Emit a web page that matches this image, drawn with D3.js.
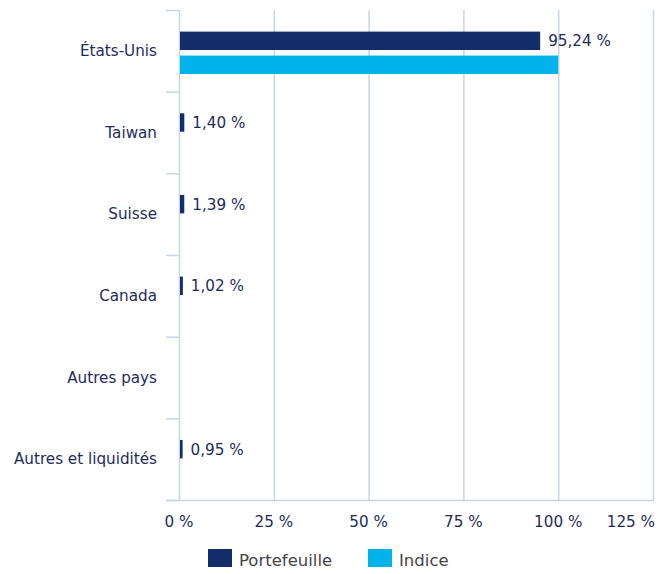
<!DOCTYPE html>
<html><head><meta charset="utf-8">
<script src="https://cdn.jsdelivr.net/npm/d3@7/dist/d3.min.js"></script>
<style>body{margin:0;background:#fff}svg{display:block}</style>
</head><body>
<svg id="c" width="672" height="574"></svg>
<script>
const categories = ["États-Unis","Taiwan","Suisse","Canada","Autres pays","Autres et liquidités"];
const portefeuille = [95.24, 1.40, 1.39, 1.02, null, 0.95];
const indice = [100, null, null, null, null, null];
const portLabels = ["95,24 %","1,40 %","1,39 %","1,02 %","","0,95 %"];
const xTicks = [0,25,50,75,100,125];
const seriesNames = ["Portefeuille","Indice"];
const colors = ["#132d6b","#00b4eb"];

const svg = d3.select("#c");
const font = "'DejaVu Sans', Verdana, sans-serif";
const textCol = "#1d2c5c";
const gridCol = "#c9d5e4";

const x = d3.scaleLinear().domain([0,125]).range([179,653]);
const y = d3.scaleBand().domain(categories).range([10,500]).paddingInner(0).paddingOuter(0);
const inner = d3.scaleBand().domain([0,1]).range([0,y.bandwidth()]).paddingInner(0.23).paddingOuter(0.82).align(0.55);

// grid lines
svg.append("g").selectAll("line").data(xTicks.slice(1)).join("line")
  .attr("x1",d=>x(d)+0.5).attr("x2",d=>x(d)+0.5).attr("y1",10).attr("y2",500)
  .attr("stroke",gridCol).attr("stroke-width",1.5);

// left axis line with ticks at band boundaries
svg.append("line").attr("x1",x(0)+0.5).attr("x2",x(0)+0.5).attr("y1",10).attr("y2",500)
  .attr("stroke",gridCol).attr("stroke-width",1.5);
const bounds = categories.map(c=>y(c)).concat([500]);
svg.append("g").selectAll("line").data(bounds).join("line")
  .attr("x1",166).attr("x2",x(0)).attr("y1",d=>d+0.5).attr("y2",d=>d+0.5)
  .attr("stroke",gridCol).attr("stroke-width",1.5);
// bottom axis line
svg.append("line").attr("x1",166).attr("x2",654).attr("y1",500.5).attr("y2",500.5)
  .attr("stroke",gridCol).attr("stroke-width",1.5);

// category labels
svg.append("g").selectAll("text").data(categories).join("text")
  .attr("x",157).attr("y",d=>y(d)+y.bandwidth()/2+5)
  .attr("text-anchor","end").attr("font-family",font).attr("font-size",15.2)
  .attr("fill",textCol).text(d=>d);

// x tick labels
svg.append("g").selectAll("text").data(xTicks).join("text")
  .attr("x",(d,i)=>i===xTicks.length-1 ? 655 : x(d))
  .attr("y",527).attr("text-anchor",(d,i)=>i===xTicks.length-1 ? "end" : "middle")
  .attr("font-family",font).attr("font-size",15.2).attr("fill",textCol)
  .text(d=>d+" %");

// bars
const series = [portefeuille, indice];
series.forEach((vals,si)=>{
  svg.append("g").selectAll("rect").data(categories.map((c,i)=>({c,v:vals[i]})).filter(d=>d.v!=null))
    .join("rect")
    .attr("x",x(0)+1).attr("y",d=>y(d.c)+inner(si))
    .attr("width",d=>Math.max(0,x(d.v)-x(0)-1)).attr("height",inner.bandwidth())
    .attr("fill",colors[si]);
});

// value labels
svg.append("g").selectAll("text").data(categories.map((c,i)=>({c,v:portefeuille[i],l:portLabels[i]})).filter(d=>d.v!=null))
  .join("text")
  .attr("x",d=>x(d.v)+8).attr("y",d=>y(d.c)+inner(0)+inner.bandwidth()/2+5.5)
  .attr("font-family",font).attr("font-size",15.2).attr("fill",textCol).text(d=>d.l);

// legend
const legX = [208,368];
const lg = svg.append("g");
seriesNames.forEach((n,i)=>{
  lg.append("rect").attr("x",legX[i]).attr("y",549).attr("width",24).attr("height",18).attr("fill",colors[i]);
  lg.append("text").attr("x",legX[i]+31).attr("y",566).attr("font-family",font).attr("font-size",16.5)
    .attr("fill","#444").text(n);
});
</script>
</body></html>
